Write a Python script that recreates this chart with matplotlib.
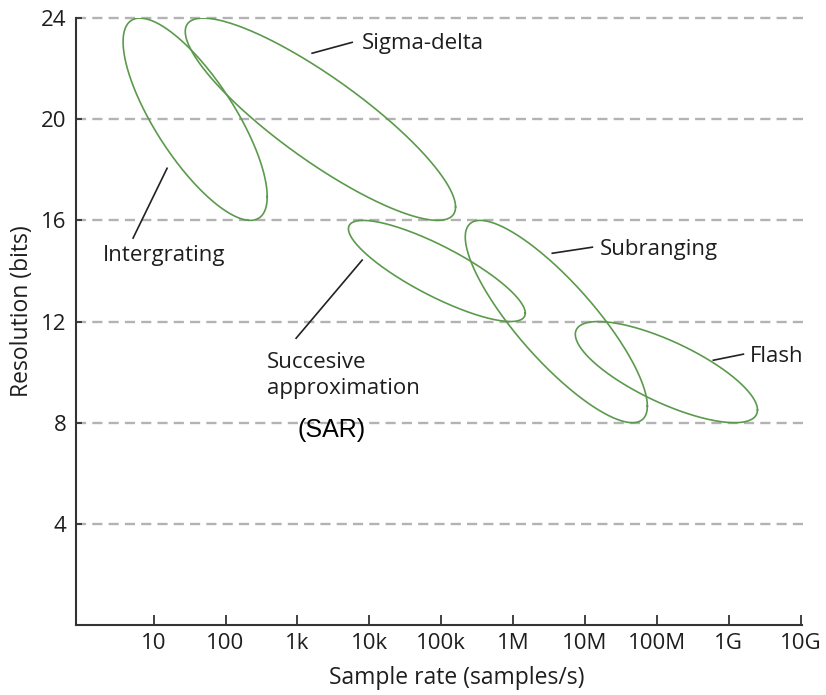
import numpy as np
import matplotlib.pyplot as plt

# ADC architectures: extent of each region (log10 of sample rate, resolution in bits)
names = ['Intergrating', 'Sigma-delta', 'SAR', 'Subranging', 'Flash']
log_rate_min = [0.575, 1.44, 3.71, 5.335, 6.866]
log_rate_max = [2.58, 5.20, 6.17, 7.868, 9.40]
log_rate_at_top = [0.81, 1.69, 3.915, 5.543, 7.186]   # where each region reaches its max bits
bits_min = [16, 16, 12, 8, 8]
bits_max = [24, 24, 16, 16, 12]

x_ticks = [10, 100, 1e3, 1e4, 1e5, 1e6, 1e7, 1e8, 1e9, 1e10]
x_tick_labels = ['10', '100', '1k', '10k', '100k', '1M', '10M', '100M', '1G', '10G']
y_ticks = [4, 8, 12, 16, 20, 24]

# label texts with their baseline-left positions (log10 rate, bits)
label_text = ['Sigma-delta', 'Intergrating', 'Succesive', 'approximation', 'Subranging', 'Flash']
label_x = [3.89, 0.296, 2.579, 2.579, 7.21, 9.30]
label_y = [22.79, 14.39, 10.16, 9.13, 14.62, 10.40]
# leader lines (log10 rate, bits)
leader_x = [(3.205, 3.762), (1.187, 0.714), (3.901, 2.982), (6.546, 7.103), (8.786, 9.204)]
leader_y = [(22.61, 23.04), (18.06, 15.30), (14.43, 11.34), (14.70, 14.94), (10.47, 10.71)]

plt.rcParams['font.family'] = ['Open Sans', 'DejaVu Sans']

fig = plt.figure(figsize=(8.26, 6.95), dpi=100)
ax = fig.add_axes([0.092, 0.1007, 0.879, 0.8733])

green = '#5b9a4c'
text_col = '#1e1e1e'
t = np.linspace(0, 2 * np.pi, 400)
for i in range(len(names)):
    cx = (log_rate_min[i] + log_rate_max[i]) / 2
    a = (log_rate_max[i] - log_rate_min[i]) / 2
    cy = (bits_min[i] + bits_max[i]) / 2
    b = (bits_max[i] - bits_min[i]) / 2
    d = np.arccos((log_rate_at_top[i] - cx) / a)
    ax.plot(10 ** (cx + a * np.cos(t)), cy + b * np.cos(t - d), color=green, lw=1.2)

for y in y_ticks:
    ax.plot([10 ** -0.08, 10 ** 10.07], [y, y], color='#b3b3b3', lw=1.7,
            ls=(0, (4.3, 2.6)), zorder=0, clip_on=False)

for i in range(len(leader_x)):
    ax.plot(10 ** np.array(leader_x[i]), leader_y[i], color='#222222', lw=1.2)
for i in range(len(label_text)):
    ax.text(10 ** label_x[i], label_y[i], label_text[i], fontsize=16,
            va='baseline', ha='left', color=text_col)
ax.text(10 ** 2.996, 7.43, '(SAR)', fontsize=18, va='baseline', ha='left',
        family=['Liberation Sans', 'DejaVu Sans'], color='black')

ax.set_xscale('log')
ax.set_xlim(10 ** -0.08, 10 ** 10.02)
ax.set_ylim(0, 24)
ax.set_xticks(x_ticks)
ax.set_xticklabels(x_tick_labels)
ax.minorticks_off()
ax.set_yticks(y_ticks)
ax.tick_params(axis='x', direction='in', length=7, width=1.3, labelsize=16, pad=6,
               colors='#333333', labelcolor=text_col)
ax.tick_params(axis='y', direction='in', length=4, width=1.3, labelsize=16, pad=7,
               colors='#333333', labelcolor=text_col)
for s in ['top', 'right']:
    ax.spines[s].set_visible(False)
for s in ['left', 'bottom']:
    ax.spines[s].set_color('#333333')
    ax.spines[s].set_linewidth(1.5)

ax.set_xlabel('Sample rate (samples/s)', fontsize=16.5, color=text_col)
ax.xaxis.set_label_coords(0.525, -0.068)
ax.set_ylabel('Resolution (bits)', fontsize=16.5, color=text_col)
ax.yaxis.set_label_coords(-0.058, 0.517)

fig.savefig('out.png', dpi=100)
